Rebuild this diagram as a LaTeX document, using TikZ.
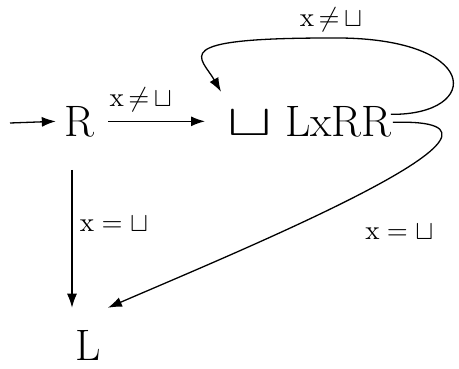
\documentclass[tikz,border=0pt]{standalone}
\usepackage{amsmath}
\usepackage{amssymb}
\usepackage{graphicx}
\usepackage{tikz}
\usetikzlibrary{arrows.meta,calc}

\newcommand{\edgelab}[1]{\scalebox{2.7}{\normalsize$#1$}}

\tikzset{
  state/.style={inner sep=0pt, font=\fontsize{44}{50}\selectfont},
  lbl/.style={inner sep=0pt, anchor=center},
  arr/.style={line width=1.3pt, -{Latex[length=14pt,width=10pt]}}
}

\begin{document}
\begin{tikzpicture}[x=1pt,y=1pt]

  % canvas
  \useasboundingbox (0,0) rectangle (459,368);

  % states
  \node[state, anchor=base] (R) at (79,232) {R};
  \node[state, anchor=base west] (LxRR) at (227,232)
      {\scalebox{6.7}[4.4]{\normalsize$\sqcup$} LxRR};
  \node[state, anchor=base] (L) at (88,8) {L};

  % start arrow
  \coordinate (start) at (10,245);
  \draw[arr] (start) -- ([xshift=-8pt]R.west);

  % R -> LxRR
  \draw[arr, shorten <=14pt, shorten >=22pt] (R.east) -- (R.east -| LxRR.west)
      node[lbl, pos=0.35, yshift=22pt] {\edgelab{\mathrm{x}\,{\neq}\,{\sqcup}}};

  % R -> L
  \draw[arr, shorten <=33pt] ($(R.south)+(-7,0)$) -- ($(R.south |- L.north)+(-7,22)$)
      node[lbl, pos=0.49, xshift=42pt, yshift=-3pt] {\edgelab{\mathrm{x}\;{=}\;{\sqcup}}};

  % loop on LxRR
  \draw[arr] ($(LxRR.east)+(-1,7)$) .. controls +(92,-1) and +(152,2) .. (330,330)
      node[lbl, xshift=1pt, yshift=18pt] {\edgelab{\mathrm{x}\,{\neq}\,{\sqcup}}}
      .. controls +(-165,0) and +(-20,35) .. ($(LxRR.north west)+(-6,14)$);

  % LxRR -> L
  \draw[arr] ($(LxRR.east)+(1,-1)$) .. controls +(172,5) and +(132,57) .. ($(L.north east)+(7,22)$)
      node[lbl, pos=0.5, xshift=35pt, yshift=-40pt] {\edgelab{\mathrm{x}\;{=}\;{\sqcup}}};

\end{tikzpicture}
\end{document}
